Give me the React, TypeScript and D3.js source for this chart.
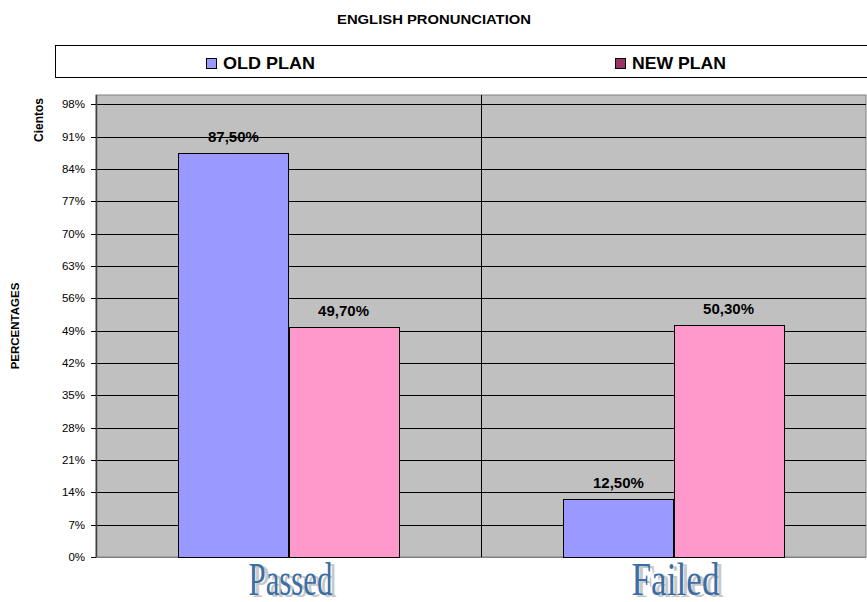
import React from "react";
import * as d3 from "d3";

const title = "ENGLISH PRONUNCIATION";
const categories = ["Passed", "Failed"];
const seriesNames = ["OLD PLAN", "NEW PLAN"];
const oldPlan = [0.875, 0.125];
const newPlan = [0.497, 0.503];
const valueLabels = [["87,50%", "12,50%"], ["49,70%", "50,30%"]];
const yTicks = [0, 0.07, 0.14, 0.21, 0.28, 0.35, 0.42, 0.49, 0.56, 0.63, 0.7, 0.77, 0.84, 0.91, 0.98];
const barColors = ["#9999FF", "#FF99CC"];
const legendColors = ["#9999FF", "#993366"];

const W = 867, H = 602;
const plot = { left: 96, right: 866, top: 95, bottom: 557 };

export default function App() {
  const x = d3.scaleBand<string>().domain(categories).range([plot.left, plot.right]).paddingInner(0).paddingOuter(0);
  const y = d3.scaleLinear().domain([0, 1]).range([plot.bottom, plot.top]);
  const series = [oldPlan, newPlan];
  const bw = x.bandwidth();
  const groupW = bw * 0.572;
  const barW = groupW / 2;
  const font = "'Liberation Sans', Arial, sans-serif";
  const fmt = (v: number) => `${Math.round(v * 100)}%`;
  const catWidths = [84, 88];
  const legendX = [206, 615];
  const legendW = [92, 94];

  return (
    <svg width={W} height={H} style={{ position: "absolute", left: 0, top: 0 }} fontFamily={font}>
      <rect x={0} y={0} width={W} height={H} fill="#fff" />
      <text x={434} y={24} textAnchor="middle" fontSize={13} fontWeight="bold" textLength={194} lengthAdjust="spacingAndGlyphs">{title}</text>
      {/* legend */}
      <rect x={55.5} y={45.5} width={840} height={32} fill="#fff" stroke="#000" strokeWidth={1} />
      {seriesNames.map((s, i) => {
        const lx = legendX[i];
        return (
          <g key={s}>
            <rect x={lx + 0.5} y={58.5} width={10} height={10} fill={legendColors[i]} stroke="#000" strokeWidth={1} />
            <text x={lx + 17} y={69} fontSize={17} fontWeight="bold" textLength={legendW[i]} lengthAdjust="spacingAndGlyphs">{s}</text>
          </g>
        );
      })}
      {/* plot area */}
      <rect x={plot.left} y={plot.top} width={plot.right - plot.left} height={plot.bottom - plot.top} fill="#C0C0C0" stroke="#808080" strokeWidth={1} />
      {yTicks.map((t) => (
        <g key={t}>
          {t > 0 && <line x1={plot.left} x2={plot.right} y1={Math.round(y(t)) + 0.5} y2={Math.round(y(t)) + 0.5} stroke="#000" strokeWidth={1} />}
          <line x1={plot.left - 5} x2={plot.left} y1={Math.round(y(t)) + 0.5} y2={Math.round(y(t)) + 0.5} stroke="#000" />
          <text x={85} y={y(t) + 4} textAnchor="end" fontSize={11.5}>{fmt(t)}</text>
        </g>
      ))}
      <line x1={x("Failed")! + 0.5} x2={x("Failed")! + 0.5} y1={plot.top} y2={plot.bottom} stroke="#000" />
      <line x1={plot.left + 0.5} x2={plot.left + 0.5} y1={plot.top} y2={plot.bottom} stroke="#404040" strokeWidth={1.5} />
      <line x1={plot.left} x2={plot.right} y1={plot.bottom + 0.5} y2={plot.bottom + 0.5} stroke="#808080" />
      {/* bars */}
      {categories.map((c, ci) => {
        const gx = x(c)! + (bw - groupW) / 2;
        return (
          <g key={c}>
            {series.map((s, si) => {
              const bx = gx + si * barW;
              const top = y(s[ci]);
              return (
                <g key={si}>
                  <rect x={Math.round(bx) + 0.5} y={Math.round(top) + 0.5} width={Math.round(barW)} height={plot.bottom - Math.round(top)} fill={barColors[si]} stroke="#000" strokeWidth={1} />
                  <text x={bx + barW / 2} y={top - 11} textAnchor="middle" fontSize={15} fontWeight="bold">{valueLabels[si][ci]}</text>
                </g>
              );
            })}
            <text x={x(c)! + bw / 2 + 6} y={597} textAnchor="middle" fontSize={46} fontFamily="'Liberation Serif', 'Times New Roman', serif" fill="#c8c8c8" textLength={catWidths[ci]} lengthAdjust="spacingAndGlyphs">{c}</text>
            <text x={x(c)! + bw / 2 + 2} y={595} textAnchor="middle" fontSize={46} fontFamily="'Liberation Serif', 'Times New Roman', serif" fill="#3B6EA5" textLength={catWidths[ci]} lengthAdjust="spacingAndGlyphs">{c}</text>
          </g>
        );
      })}
      {/* axis titles */}
      <text transform="translate(43,120) rotate(-90)" textAnchor="middle" fontSize={12} fontWeight="bold">Cientos</text>
      <text transform="translate(19,326) rotate(-90)" textAnchor="middle" fontSize={11.5} fontWeight="bold">PERCENTAGES</text>
    </svg>
  );
}
